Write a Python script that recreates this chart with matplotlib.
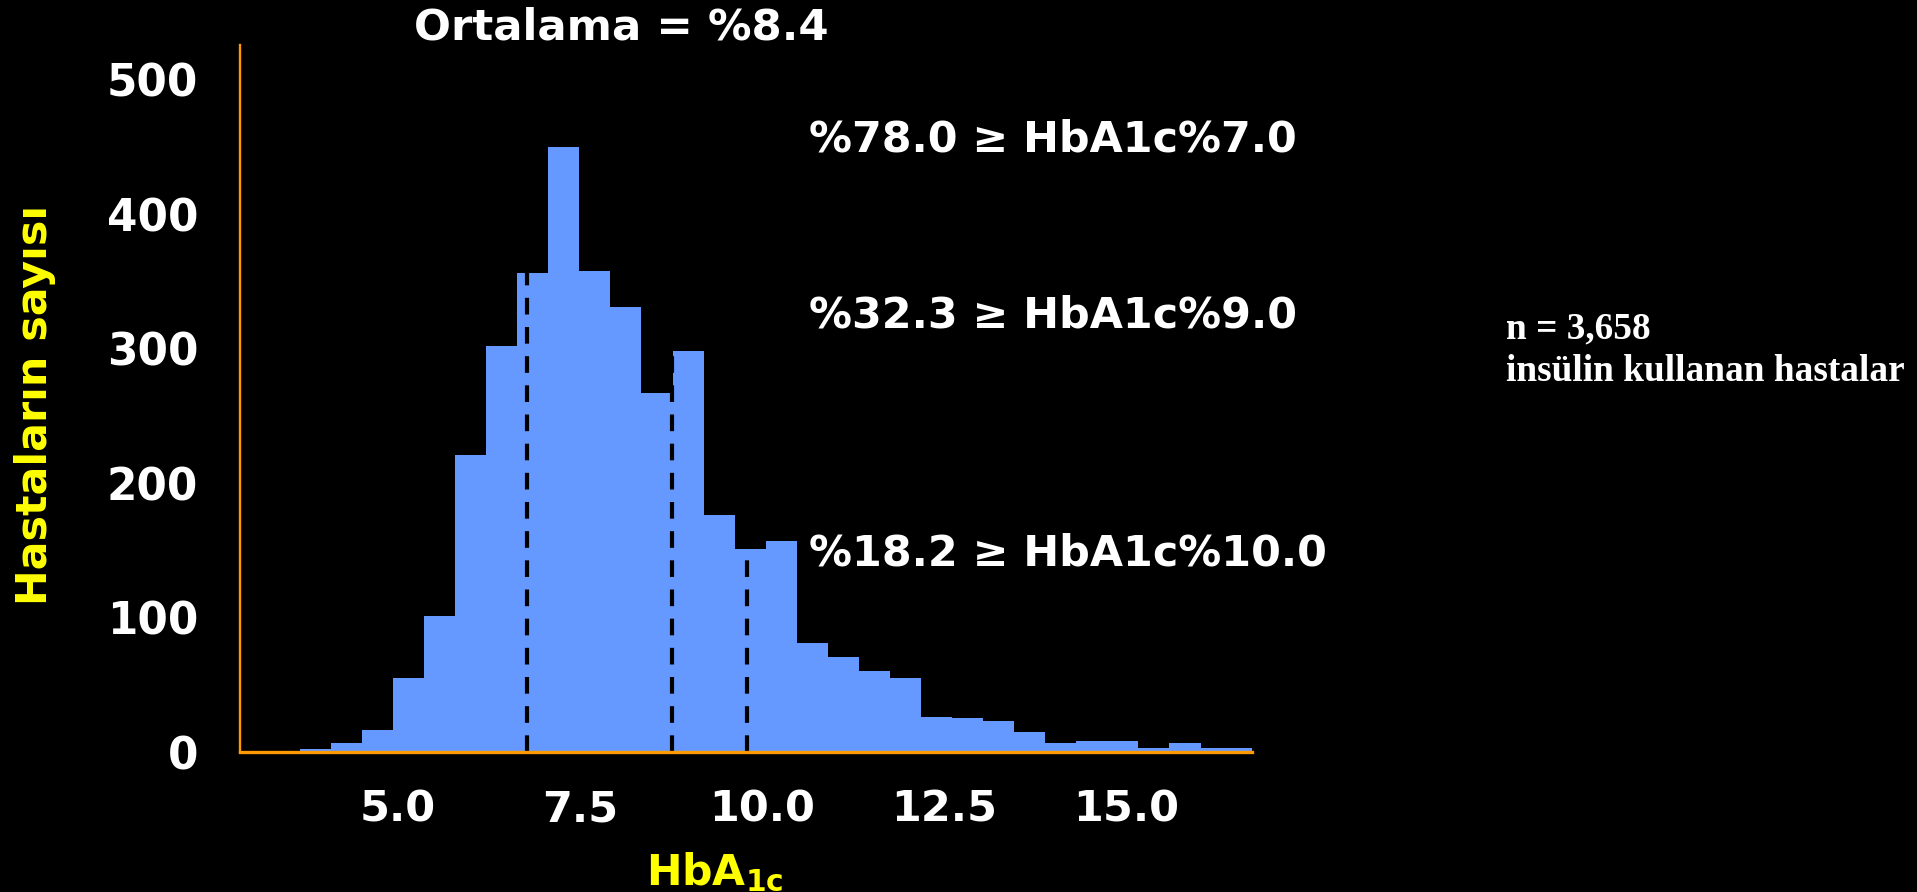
import numpy as np
import matplotlib
matplotlib.use("Agg")
import matplotlib.pyplot as plt

# ---- data -------------------------------------------------------------
counts = [2, 7, 16, 55, 101, 221, 302, 356, 450, 358, 331, 267, 298, 176,
          151, 157, 81, 71, 60, 55, 26, 25, 23, 15, 7, 8, 8, 3, 7, 3, 3]
first_bin = 3.66          # left edge of the first HbA1c bin
bin_width = 0.426         # HbA1c bin width
cutoffs = [6.77, 8.77, 9.79]
x_ticks = [5.0, 7.5, 10.0, 12.5, 15.0]
y_ticks = [0, 100, 200, 300, 400, 500]

title_text = "Ortalama = %8.4"
band_labels = ["%78.0 \u2265 HbA1c%7.0",
               "%32.3 \u2265 HbA1c%9.0",
               "%18.2 \u2265 HbA1c%10.0"]
cohort_lines = ["n = 3,658", "insülin kullanan hastalar"]
y_label = "Hastaların sayısı"
x_label = r"$\mathbf{HbA_{1c}}$"

# ---- style ------------------------------------------------------------
W, H, DPI = 1917, 892, 100
plt.rcParams["font.family"] = ["DejaVu Sans"]
plt.rcParams["font.weight"] = "bold"
plt.rcParams["mathtext.fontset"] = "dejavusans"

BAR = "#6699FF"
AXIS = "#FF9900"
YELLOW = "#FFFF00"


def fx(px):
    return px / W


def fy(py):
    return 1 - py / H


fig = plt.figure(figsize=(W / DPI, H / DPI), dpi=DPI, facecolor="black")
ax = fig.add_axes([fx(240), fy(752), fx(1252) - fx(240), fy(45) - fy(752)])
ax.set_facecolor("black")

counts_arr = np.asarray(counts)
lefts = first_bin + bin_width * np.arange(len(counts))
ax.bar(lefts, counts_arr, width=bin_width, align="edge", color=BAR,
       linewidth=0, zorder=2)

# dashed cut-off lines rise to the top of the bar they sit on
for c in cutoffs:
    hit = (lefts <= c + 0.03) & (lefts + bin_width >= c - 0.03)
    top = counts_arr[hit].max()
    ax.plot([c, c], [0, top], color="black", lw=3.0, dashes=(4, 3),
            solid_capstyle="butt", zorder=3)

ax.set_xlim(2.84, 16.72)
ax.set_ylim(0, 526)
ax.set_xticks(x_ticks)
ax.set_xticklabels([f"{v:.1f}" for v in x_ticks])
ax.set_yticks(y_ticks)
ax.set_yticklabels([str(v) for v in y_ticks])
ax.tick_params(axis="x", length=0, pad=26.5, labelsize=31, colors="white")
ax.tick_params(axis="y", length=0, pad=30, labelsize=31.5, colors="white")

for side in ("top", "right"):
    ax.spines[side].set_visible(False)
ax.spines["left"].set_color(AXIS)
ax.spines["left"].set_linewidth(1.7)
ax.spines["bottom"].set_color(AXIS)
ax.spines["bottom"].set_linewidth(2.4)
ax.spines["left"].set_zorder(4)
ax.spines["bottom"].set_zorder(4)

# ---- text -------------------------------------------------------------
fig.text(fx(621), fy(39.5), title_text, ha="center", va="baseline",
         fontsize=31.3, color="white", weight="bold")

for label, base in zip(band_labels, [151.7, 327, 565]):
    fig.text(fx(809), fy(base), label, ha="left", va="baseline",
             fontsize=30.9, color="white", weight="bold")

for line, base in zip(cohort_lines, [338.5, 381]):
    fig.text(fx(1506), fy(base), line, ha="left", va="baseline",
             fontsize=26.8, color="white", weight="bold",
             family="Liberation Serif")

fig.text(fx(35), fy(405), y_label, rotation=90, ha="center", va="center",
         fontsize=30.8, color=YELLOW, weight="bold")
fig.text(fx(646), fy(885), x_label, ha="left", va="baseline",
         fontsize=30.6, color=YELLOW)

fig.savefig("out.png", dpi=DPI, facecolor="black")
